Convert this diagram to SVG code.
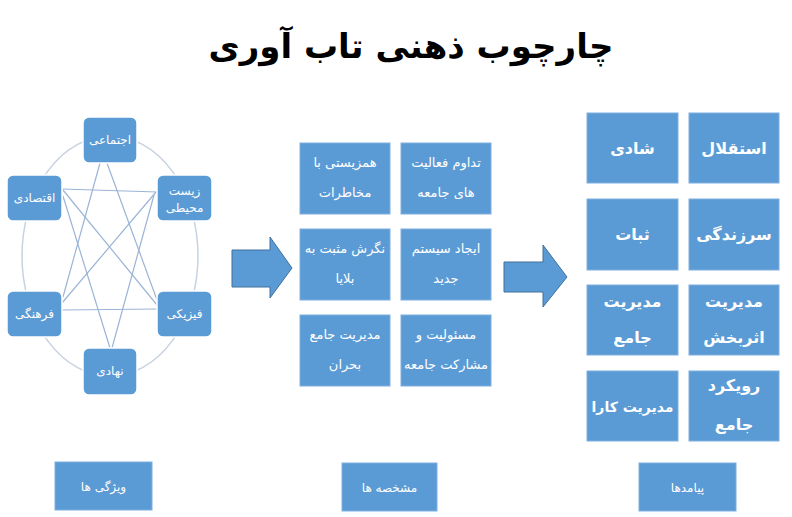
<svg xmlns="http://www.w3.org/2000/svg" width="792" height="517" viewBox="0 0 792 517">
<style>
  .title { font-family: "DejaVu Sans", sans-serif; font-weight: bold; font-size: 34px; fill: #000; text-anchor: middle; }
  .node rect { fill: #5b9bd5; stroke: #ffffff; stroke-width: 1.5; }
  .box rect { fill: #5b9bd5; stroke: #7eafdd; stroke-width: 1; }
  .ntxt { font-family: "DejaVu Sans", sans-serif; font-size: 12px; fill: #fff; text-anchor: middle; }
  .mtxt { font-family: "DejaVu Sans", sans-serif; font-size: 13px; fill: #fff; text-anchor: middle; }
  .rtxt { font-family: "DejaVu Sans", sans-serif; font-weight: bold; font-size: 16px; fill: #fff; text-anchor: middle; }
  .btxt { font-family: "DejaVu Sans", sans-serif; font-size: 12px; fill: #fff; text-anchor: middle; }
  .link { stroke: #9bb4d6; stroke-width: 1.2; fill: none; }
  .ring { stroke: #c8d2e0; stroke-width: 1.5; fill: none; }
  .arrow { fill: #5b9bd5; stroke: #41719c; stroke-width: 1; }
</style>

<text class="title" x="411" y="58">چارچوب ذهنی تاب آوری</text>

<g id="connectors">
  <ellipse class="ring" cx="110" cy="256" rx="88" ry="120"/>
  <line class="link" x1="62" y1="189" x2="157" y2="192"/>
  <line class="link" x1="62" y1="310" x2="157" y2="309"/>
  <line class="link" x1="100" y1="163" x2="63" y2="297"/>
  <line class="link" x1="107" y1="163" x2="157" y2="300"/>
  <line class="link" x1="63" y1="190" x2="157" y2="305"/>
  <line class="link" x1="63" y1="196" x2="110" y2="348"/>
  <line class="link" x1="156" y1="192" x2="62" y2="303"/>
  <line class="link" x1="154" y1="195" x2="112" y2="348"/>
</g>

<g id="arrows">
  <path class="arrow" d="M232,250 H270 V237 L292,268 L270,298 V287 H232 Z"/>
  <path class="arrow" d="M504,262 H543 V245 L567,277 L543,307 V292 H504 Z"/>
</g>

<g id="n-ejtemaei" class="node"><rect x="83" y="117" width="54" height="46" rx="6"/><text class="ntxt" x="110" y="144">اجتماعی</text></g>
<g id="n-eghtesadi" class="node"><rect x="7" y="175" width="55" height="46" rx="6"/><text class="ntxt" x="34.5" y="202">اقتصادی</text></g>
<g id="n-zist" class="node"><rect x="157" y="175" width="55" height="46" rx="6"/><text class="ntxt" x="184.5" y="195">زیست</text><text class="ntxt" x="184.5" y="212">محیطی</text></g>
<g id="n-farhangi" class="node"><rect x="7" y="291" width="55" height="46" rx="6"/><text class="ntxt" x="34.5" y="318">فرهنگی</text></g>
<g id="n-fiziki" class="node"><rect x="157" y="291" width="55" height="46" rx="6"/><text class="ntxt" x="184.5" y="318">فیزیکی</text></g>
<g id="n-nahadi" class="node"><rect x="83" y="348" width="54" height="47" rx="6"/><text class="ntxt" x="110" y="375">نهادی</text></g>

<g id="m-hamzisti" class="box"><rect x="300" y="143" width="90" height="71"/><text class="mtxt" x="345" y="167">همزیستی با</text><text class="mtxt" x="345" y="197">مخاطرات</text></g>
<g id="m-tadavom" class="box"><rect x="401" y="143" width="90" height="71"/><text class="mtxt" x="446" y="167">تداوم فعالیت</text><text class="mtxt" x="446" y="197">های جامعه</text></g>
<g id="m-negaresh" class="box"><rect x="300" y="229" width="90" height="71"/><text class="mtxt" x="345" y="253">نگرش مثبت به</text><text class="mtxt" x="345" y="283">بلایا</text></g>
<g id="m-ijad" class="box"><rect x="401" y="229" width="90" height="71"/><text class="mtxt" x="446" y="253">ایجاد سیستم</text><text class="mtxt" x="446" y="283">جدید</text></g>
<g id="m-modiriat" class="box"><rect x="300" y="315" width="90" height="71"/><text class="mtxt" x="345" y="339">مدیریت جامع</text><text class="mtxt" x="345" y="369">بحران</text></g>
<g id="m-masouliat" class="box"><rect x="401" y="315" width="90" height="71"/><text class="mtxt" x="446" y="339">مسئولیت و</text><text class="mtxt" x="446" y="369">مشارکت جامعه</text></g>

<g id="r-shadi" class="box"><rect x="587" y="113" width="91" height="70"/><text class="rtxt" x="632.5" y="154">شادی</text></g>
<g id="r-esteghlal" class="box"><rect x="689" y="113" width="90" height="70"/><text class="rtxt" x="734" y="154">استقلال</text></g>
<g id="r-sabat" class="box"><rect x="587" y="199" width="91" height="71"/><text class="rtxt" x="632.5" y="240">ثبات</text></g>
<g id="r-sarzendegi" class="box"><rect x="689" y="199" width="90" height="71"/><text class="rtxt" x="734" y="240">سرزندگی</text></g>
<g id="r-modiriat-jame" class="box"><rect x="587" y="285" width="91" height="70"/><text class="rtxt" x="632.5" y="307">مدیریت</text><text class="rtxt" x="632.5" y="343">جامع</text></g>
<g id="r-modiriat-asarbakhsh" class="box"><rect x="689" y="285" width="90" height="70"/><text class="rtxt" x="734" y="307">مدیریت</text><text class="rtxt" x="734" y="343">اثربخش</text></g>
<g id="r-modiriat-kara" class="box"><rect x="587" y="371" width="91" height="70"/><text class="rtxt" x="632.5" y="412" style="font-size:14px">مدیریت کارا</text></g>
<g id="r-rooykard" class="box"><rect x="689" y="371" width="90" height="70"/><text class="rtxt" x="734" y="391">رویکرد</text><text class="rtxt" x="734" y="430">جامع</text></g>

<g id="b-vizhegi" class="box"><rect x="55" y="462" width="97" height="48"/><text class="btxt" x="103.5" y="491">ویژگی ها</text></g>
<g id="b-moshakhase" class="box"><rect x="342" y="463" width="95" height="48"/><text class="btxt" x="389.5" y="492">مشخصه ها</text></g>
<g id="b-payamad" class="box"><rect x="639" y="463" width="97" height="48"/><text class="btxt" x="687.5" y="492">پیامدها</text></g>
</svg>
